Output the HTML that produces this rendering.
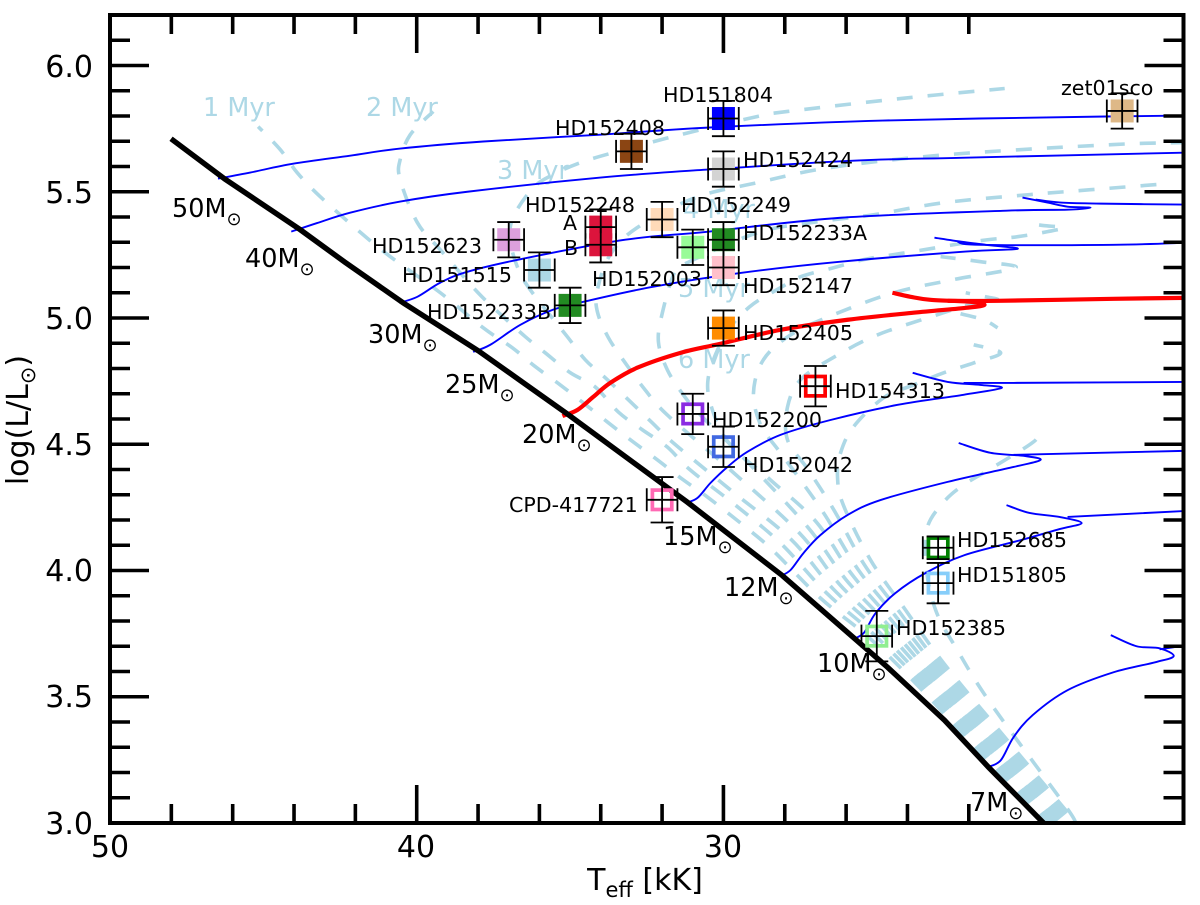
<!DOCTYPE html>
<html lang="en">
<head>
<meta charset="utf-8">
<title>HR diagram</title>
<style>
html,body{margin:0;padding:0;background:#fff;}
svg{display:block;}
text{font-family:"DejaVu Sans","Liberation Sans",sans-serif;fill:#000;}
.star-label{font-size:20.6px;}
.mass-label{font-size:25.5px;}
.iso-label{font-size:25.5px;fill:#add8e6;}
.tick-label{font-size:30px;}
.axis-title{font-size:30px;}
</style>
</head>
<body>
<svg id="chart" xmlns="http://www.w3.org/2000/svg" width="1200" height="905" viewBox="0 0 1200 905">
  <defs><clipPath id="plot-clip"><rect x="110" y="15" width="1073.5" height="808"/></clipPath></defs>
  <g id="layer-iso-labels">
    <text class="iso-label" x="203" y="116">1 Myr</text>
    <text class="iso-label" x="366" y="116">2 Myr</text>
    <text class="iso-label" x="497" y="179">3 Myr</text>
    <text class="iso-label" x="683" y="218">4 Myr</text>
    <text class="iso-label" x="678" y="297">5 Myr</text>
    <text class="iso-label" x="678" y="368">6 Myr</text>
  </g>
  <g id="layer-iso" clip-path="url(#plot-clip)"></g>
  <g id="layer-tracks" clip-path="url(#plot-clip)"></g>
  <g id="layer-zams" clip-path="url(#plot-clip)"></g>
  <g id="layer-stars"></g>
  <g id="layer-axes"></g>
  <g id="layer-labels">
    <text class="mass-label" x="172" y="217">50M<tspan dy="8" font-size="18">⊙</tspan></text>
    <text class="mass-label" x="245" y="267">40M<tspan dy="8" font-size="18">⊙</tspan></text>
    <text class="mass-label" x="368" y="343">30M<tspan dy="8" font-size="18">⊙</tspan></text>
    <text class="mass-label" x="445" y="393">25M<tspan dy="8" font-size="18">⊙</tspan></text>
    <text class="mass-label" x="522" y="443">20M<tspan dy="8" font-size="18">⊙</tspan></text>
    <text class="mass-label" x="663" y="545">15M<tspan dy="8" font-size="18">⊙</tspan></text>
    <text class="mass-label" x="724" y="596">12M<tspan dy="8" font-size="18">⊙</tspan></text>
    <text class="mass-label" x="817" y="672">10M<tspan dy="8" font-size="18">⊙</tspan></text>
    <text class="mass-label" x="970" y="811">7M<tspan dy="8" font-size="18">⊙</tspan></text>

    <text class="star-label" x="663" y="102">HD151804</text>
    <text class="star-label" x="555" y="135">HD152408</text>
    <text class="star-label" x="743" y="167">HD152424</text>
    <text class="star-label" x="1061" y="95">zet01sco</text>
    <text class="star-label" x="681" y="212">HD152249</text>
    <text class="star-label" x="525" y="212">HD152248</text>
    <text class="star-label" x="563" y="230">A</text>
    <text class="star-label" x="564" y="255">B</text>
    <text class="star-label" x="743" y="240">HD152233A</text>
    <text class="star-label" x="592" y="286">HD152003</text>
    <text class="star-label" x="743" y="293">HD152147</text>
    <text class="star-label" x="372" y="253">HD152623</text>
    <text class="star-label" x="402" y="282">HD151515</text>
    <text class="star-label" x="427" y="319">HD152233B</text>
    <text class="star-label" x="743" y="340">HD152405</text>
    <text class="star-label" x="835" y="398">HD154313</text>
    <text class="star-label" x="712" y="427">HD152200</text>
    <text class="star-label" x="743" y="472">HD152042</text>
    <text class="star-label" x="509" y="512">CPD-417721</text>
    <text class="star-label" x="957" y="547">HD152685</text>
    <text class="star-label" x="957" y="582">HD151805</text>
    <text class="star-label" x="896" y="635">HD152385</text>

    <text class="tick-label" x="93" y="77" text-anchor="end">6.0</text>
    <text class="tick-label" x="93" y="203" text-anchor="end">5.5</text>
    <text class="tick-label" x="93" y="329" text-anchor="end">5.0</text>
    <text class="tick-label" x="93" y="455" text-anchor="end">4.5</text>
    <text class="tick-label" x="93" y="581" text-anchor="end">4.0</text>
    <text class="tick-label" x="93" y="707" text-anchor="end">3.5</text>
    <text class="tick-label" x="93" y="834" text-anchor="end">3.0</text>
    <text class="tick-label" x="110" y="857" text-anchor="middle">50</text>
    <text class="tick-label" x="416" y="857" text-anchor="middle">40</text>
    <text class="tick-label" x="723" y="857" text-anchor="middle">30</text>
    <text class="axis-title" x="645" y="890" text-anchor="middle">T<tspan dy="7" font-size="21">eff</tspan><tspan dy="-7"> [kK]</tspan></text>
    <text class="axis-title" transform="translate(28,420) rotate(-90)" text-anchor="middle">log(L/L<tspan dy="7" font-size="21">⊙</tspan><tspan dy="-7">)</tspan></text>
  </g>
</svg>
<script>
// ---- axis limits and ticks ----
const xLimits = [50, 15];
const yLimits = [3.0, 6.2];
const xMajorTicks = [50, 40, 30];
const xMinorTicks = [48, 46, 44, 42, 38, 36, 34, 32, 28, 26, 24, 22];
const yMajorTicks = [3.0, 3.5, 4.0, 4.5, 5.0, 5.5, 6.0];
const yMinorTicks = [3.1, 3.2, 3.3, 3.4, 3.6, 3.7, 3.8, 3.9, 4.1, 4.2, 4.3, 4.4, 4.6, 4.7, 4.8, 4.9, 5.1, 5.2, 5.3, 5.4, 5.6, 5.7, 5.8, 5.9, 6.1];

// ---- zero-age main sequence [Teff kK, logL] ----
const zams = [[48.01,5.71],[46.25,5.55],[43.8,5.35],[42.33,5.22],[40.44,5.06],[37.99,4.87],[35.09,4.62],[31.17,4.27],[28.08,3.98],[25.53,3.71],[24.65,3.617],[22.79,3.407],[21.35,3.22],[19.4,2.98]];

// ---- evolutionary tracks [Teff kK, logL] ----
const track50 = [[46.48,5.552],[45.43,5.576],[44.03,5.611],[42.17,5.643],[40.54,5.671],[37.83,5.699],[34.01,5.726],[30.52,5.754],[24.81,5.782],[17.54,5.798],[14.9,5.802]];
const track40 = [[44.09,5.342],[43.25,5.376],[42.17,5.417],[40.54,5.461],[38.35,5.500],[34.01,5.556],[30.52,5.588],[25.76,5.623],[22.11,5.635],[14.9,5.655]];
const track30 = [[40.57,5.060],[39.98,5.084],[39.23,5.140],[38.35,5.183],[36.53,5.235],[33.20,5.310],[30.49,5.342],[26.18,5.397],[20.77,5.425],[18.78,5.429],[18.03,5.437],[18.78,5.441],[19.43,5.457],[20.25,5.477]];
const track30Branch = [[19.82,5.469],[19.00,5.457],[17.70,5.453],[14.9,5.449]];
const track25 = [[38.16,4.866],[37.60,4.894],[36.62,4.973],[35.55,5.033],[34.57,5.064],[32.28,5.124],[29.41,5.179],[26.18,5.223],[22.11,5.263],[20.41,5.274],[21.45,5.290],[22.24,5.302],[23.12,5.318]];
const track25Branch = [[22.37,5.302],[21.62,5.290],[17.28,5.290],[14.9,5.298]];
const track15 = [[31.24,4.267],[30.85,4.287],[30.42,4.347],[29.87,4.410],[29.22,4.470],[28.14,4.537],[26.51,4.596],[24.32,4.656],[22.17,4.696],[20.93,4.723],[21.62,4.735],[22.69,4.747],[23.83,4.783]];
const track15Branch = [[22.17,4.743],[20.54,4.743],[14.9,4.747]];
const track12 = [[28.14,3.978],[27.81,4.002],[27.39,4.069],[26.84,4.140],[25.95,4.220],[24.88,4.279],[22.69,4.351],[20.54,4.410],[19.66,4.438],[20.21,4.454],[21.29,4.466],[22.33,4.505]];
const track12Branch = [[20.54,4.458],[14.9,4.474]];
const track10 = [[25.69,3.732],[25.40,3.756],[25.04,3.831],[24.39,3.911],[23.41,3.990],[22.14,4.061],[20.28,4.121],[19.04,4.164],[18.32,4.188],[19.04,4.212],[20.02,4.228],[20.77,4.259]];
const track10Branch = [[18.78,4.212],[14.9,4.236]];
const track7 = [[21.39,3.221],[20.96,3.248],[20.54,3.340],[19.92,3.427],[18.78,3.526],[17.28,3.597],[15.91,3.637],[15.32,3.661],[15.78,3.692],[16.53,3.700],[17.37,3.744]];
const track7Branch = [[15.78,3.688],[14.9,3.704]];
const track20 = [[35.25,4.612],[34.76,4.636],[34.24,4.688],[33.69,4.743],[32.81,4.803],[31.40,4.862],[30.10,4.898],[28.14,4.953],[25.95,4.993],[23.80,5.021],[22.04,5.041],[21.49,5.052],[21.94,5.064],[23.25,5.072],[23.90,5.084],[24.49,5.100]];
const track20Branch = [[22.69,5.068],[21.06,5.068],[17.28,5.076],[14.9,5.080]];

// ---- isochrones [Teff kK, logL] ----
const iso1 = [[19.43,2.979],[21.65,3.280],[23.74,3.554],[25.27,3.736],[26.84,3.891],[28.40,4.081],[29.28,4.172],[30.52,4.291],[31.31,4.359],[32.15,4.438],[32.94,4.509],[33.75,4.585],[34.57,4.664],[35.32,4.735],[36.13,4.807],[36.88,4.882],[37.83,4.961],[39.23,5.100],[40.86,5.243],[41.75,5.330],[43.15,5.481],[43.90,5.576],[44.45,5.667],[45.17,5.758]];
const iso2 = [[19.35,2.987],[21.55,3.288],[23.62,3.564],[25.12,3.750],[26.64,3.911],[28.11,4.105],[29.61,4.259],[31.08,4.398],[31.83,4.489],[32.64,4.557],[33.43,4.628],[34.18,4.727],[34.99,4.783],[35.81,4.862],[36.46,4.926],[37.18,5.005],[38.03,5.104],[39.23,5.270],[39.98,5.378],[40.54,5.548],[40.54,5.627],[40.21,5.726],[39.46,5.818]];
const iso3 = [[19.27,2.995],[21.49,3.300],[23.51,3.573],[24.98,3.764],[26.43,3.928],[27.81,4.125],[29.77,4.319],[31.63,4.505],[32.32,4.585],[33.03,4.668],[33.85,4.763],[34.50,4.834],[35.09,4.926],[36.30,5.112],[36.72,5.203],[36.95,5.310],[36.85,5.401],[36.20,5.516],[35.55,5.568],[34.67,5.615],[33.59,5.655],[31.40,5.726],[28.89,5.798],[27.91,5.818],[24.23,5.869],[20.83,5.909]];
const iso4 = [[19.18,3.003],[21.39,3.308],[23.39,3.583],[24.81,3.776],[26.22,3.946],[27.52,4.148],[29.77,4.398],[31.83,4.616],[32.55,4.715],[33.20,4.822],[33.75,4.922],[34.11,5.025],[34.11,5.112],[33.69,5.251],[32.81,5.358],[30.91,5.477],[28.89,5.536],[26.51,5.596],[22.69,5.647],[17.28,5.687],[14.76,5.695]];
const iso5 = [[19.10,3.010],[21.29,3.316],[23.28,3.593],[24.67,3.790],[26.02,3.966],[27.24,4.170],[29.28,4.438],[30.75,4.616],[31.31,4.696],[31.83,4.795],[32.12,4.906],[31.99,5.021],[31.60,5.179],[31.18,5.219],[28.89,5.338],[27.13,5.378],[25.11,5.409],[22.79,5.457],[19.98,5.489],[18.03,5.508],[15.51,5.532]];
const iso6 = [[19.02,3.018],[21.19,3.328],[23.17,3.603],[24.52,3.803],[25.82,3.986],[26.97,4.192],[28.47,4.359],[29.77,4.497],[30.36,4.636],[30.49,4.767],[29.94,4.933],[29.15,5.044],[28.14,5.120],[27.49,5.163],[26.41,5.199],[25.43,5.231],[24.45,5.251],[23.47,5.270],[22.50,5.290],[21.39,5.310],[20.41,5.322],[19.43,5.342],[18.91,5.358],[19.56,5.366],[19.98,5.374]];
const iso7 = [[18.94,3.026],[21.09,3.336],[23.05,3.613],[24.36,3.815],[25.61,4.004],[26.67,4.216],[27.49,4.359],[28.21,4.477],[28.79,4.577],[29.02,4.704],[28.70,4.834],[27.81,4.933],[26.41,5.013],[24.45,5.100],[22.50,5.152],[20.47,5.199],[21.62,5.223],[22.92,5.243]];
const iso8 = [[18.86,3.034],[21.03,3.347],[22.94,3.623],[24.23,3.831],[25.40,4.022],[26.38,4.236],[27.23,4.398],[27.91,4.517],[27.91,4.648],[27.49,4.755],[26.44,4.842],[24.98,4.933],[23.02,5.013],[21.78,5.060],[21.06,5.072],[21.45,5.084],[22.10,5.100]];
const iso9 = [[18.78,3.042],[20.93,3.355],[22.82,3.633],[24.06,3.843],[25.20,4.041],[26.09,4.259],[26.28,4.370],[26.18,4.466],[25.76,4.569],[24.78,4.684],[23.80,4.735],[22.82,4.783],[21.84,4.822],[20.96,4.862],[21.84,4.894]];
const iso10 = [[18.52,3.003],[18.91,3.078],[21.29,3.474],[22.37,3.684],[23.08,3.843],[23.41,4.029],[23.35,4.172],[22.82,4.271],[22.17,4.339],[21.19,4.410],[19.82,4.517],[20.15,4.537]];
const isoHook = [[22.27,5.017],[21.52,4.993],[21.06,4.961]];
// additional older isochrones packed into the low-mass bundle
const isoBundle1 = [[19.39,2.983],[21.60,3.285],[23.84,3.582]];
const isoBundle2 = [[19.31,2.991],[21.55,3.294],[23.73,3.592]];
const isoBundle3 = [[19.23,2.998],[21.42,3.303],[23.62,3.602]];
const isoBundle4 = [[19.15,3.006],[21.34,3.313],[23.50,3.612]];
const isoBundle5 = [[19.06,3.014],[21.24,3.322],[23.39,3.622]];
const isoBundle6 = [[18.98,3.022],[21.16,3.332],[23.27,3.632]];
const isoBundle7 = [[18.90,3.030],[21.07,3.341],[23.16,3.642]];
const isoBundle8 = [[18.82,3.038],[20.98,3.351],[23.04,3.652]];

// ---- observed stars ----
const starNames = ["HD151804","HD152408","HD152424","zet01sco","HD152249","HD152248A","HD152248B","HD152003","HD152233A","HD152147","HD152623","HD151515","HD152233B","HD152405","HD154313","HD152200","HD152042","CPD-417721","HD152685","HD151805","HD152385"];
const starTeff = [30,33,30,17,32,34,34,31,30,30,37,36,35,30,27,31,30,32,23,23,25];
const starLogL = [5.79,5.66,5.59,5.82,5.39,5.36,5.29,5.28,5.31,5.20,5.31,5.19,5.05,4.96,4.73,4.62,4.49,4.28,4.09,3.95,3.74];
const starErrLogL = [0.07,0.07,0.07,0.07,0.07,0.07,0.07,0.07,0.07,0.07,0.07,0.07,0.07,0.07,0.08,0.08,0.08,0.09,0.045,0.08,0.1];
const starErrTeff = [0.5,0.5,0.5,0.5,0.5,0.5,0.5,0.5,0.5,0.5,0.5,0.5,0.5,0.5,0.5,0.5,0.5,0.5,0.5,0.5,0.5];
const starColorKey = ["blue","saddlebrown","lightgray","burlywood","peachpuff","crimson","crimson","palegreen","forestgreen","pink","plum","lightblue","forestgreen","darkorange","red","blueviolet","royalblue","hotpink","green","lightskyblue","lightgreen"];
const starIsHollow = [false,false,false,false,false,false,false,false,false,false,false,false,false,false,true,true,true,true,true,true,true];

// ---- axis functions ----
const plotLeft = 110, plotRight = 1183.5, plotTop = 15, plotBottom = 823;
function xScale(t) { return plotLeft + (t - xLimits[0]) / (xLimits[1] - xLimits[0]) * (plotRight - plotLeft); }
function yScale(l) { return plotBottom - (l - yLimits[0]) / (yLimits[1] - yLimits[0]) * (plotBottom - plotTop); }

const NS = "http://www.w3.org/2000/svg";
function make(tag, attrs, parent) {
  const el = document.createElementNS(NS, tag);
  for (const k in attrs) el.setAttribute(k, attrs[k]);
  parent.appendChild(el);
  return el;
}
function smoothPath(pts) {
  const p = pts.map(function (d) { return [xScale(d[0]), yScale(d[1])]; });
  let s = "M" + p[0][0].toFixed(2) + " " + p[0][1].toFixed(2);
  for (let i = 0; i < p.length - 1; i++) {
    const a = p[Math.max(i - 1, 0)], b = p[i], c = p[i + 1], d = p[Math.min(i + 2, p.length - 1)];
    const c1x = b[0] + (c[0] - a[0]) / 6, c1y = b[1] + (c[1] - a[1]) / 6;
    const c2x = c[0] - (d[0] - b[0]) / 6, c2y = c[1] - (d[1] - b[1]) / 6;
    s += "C" + c1x.toFixed(2) + " " + c1y.toFixed(2) + " " + c2x.toFixed(2) + " " + c2y.toFixed(2) + " " + c[0].toFixed(2) + " " + c[1].toFixed(2);
  }
  return s;
}
function straightPath(pts) {
  return pts.map(function (d, i) { return (i ? "L" : "M") + xScale(d[0]).toFixed(2) + " " + yScale(d[1]).toFixed(2); }).join("");
}

// ---- isochrones ----
const isoLayer = document.getElementById("layer-iso");
[iso1, iso2, iso3, iso4, iso5, iso6, iso7, iso8, iso9, iso10, isoHook, isoBundle1, isoBundle2, isoBundle3, isoBundle4, isoBundle5, isoBundle6, isoBundle7, isoBundle8].forEach(function (pts) {
  const el = make("path", { d: smoothPath(pts), fill: "none", stroke: "#add8e6", "stroke-width": 3.6, "stroke-dasharray": "16 15" }, isoLayer);
  
  
});

// ---- tracks ----
const trackLayer = document.getElementById("layer-tracks");
[track50, track40, track30, track30Branch, track25, track25Branch, track15, track15Branch, track12, track12Branch, track10, track10Branch, track7, track7Branch].forEach(function (pts) {
  const el = make("path", { d: smoothPath(pts), fill: "none", stroke: "#0000ff", "stroke-width": 1.9 }, trackLayer);
  
  
});
[track20, track20Branch].forEach(function (pts) {
  const el = make("path", { d: smoothPath(pts), fill: "none", stroke: "#ff0000", "stroke-width": 4.2 }, trackLayer);
  
  
});

// ---- ZAMS ----
const zamsEl = make("path", { d: straightPath(zams), fill: "none", stroke: "#000", "stroke-width": 5.4 }, document.getElementById("layer-zams"));



// ---- stars ----
const colorMap = { blue:"#0000ff", saddlebrown:"#8b4513", lightgray:"#d3d3d3", burlywood:"#deb887", peachpuff:"#ffdab9", crimson:"#dc143c", palegreen:"#98fb98", forestgreen:"#228b22", pink:"#ffc0cb", plum:"#dda0dd", lightblue:"#add8e6", darkorange:"#ff8c00", red:"#ff0000", blueviolet:"#8a2be2", royalblue:"#4169e1", hotpink:"#ff69b4", green:"#008000", lightskyblue:"#87cefa", lightgreen:"#90ee90" };
const starLayer = document.getElementById("layer-stars");
starNames.forEach(function (name, i) {
  const cx = xScale(starTeff[i]), cy = yScale(starLogL[i]);
  const g = make("g", {}, starLayer);
  
  
  const color = colorMap[starColorKey[i]];
  const marker = starIsHollow[i]
    ? make("rect", { x: cx - 9.7, y: cy - 9.7, width: 19.4, height: 19.4, fill: "none", stroke: color, "stroke-width": 3.7 }, g)
    : make("rect", { x: cx - 11.5, y: cy - 11.5, width: 23, height: 23, fill: color }, g);
  
  
  const x0 = xScale(starTeff[i] + starErrTeff[i]), x1 = xScale(starTeff[i] - starErrTeff[i]);
  const y0 = yScale(starLogL[i] + starErrLogL[i]), y1 = yScale(starLogL[i] - starErrLogL[i]);
  const cap = 11.5;
  const d = "M" + x0 + " " + cy + "L" + x1 + " " + cy +
            "M" + x0 + " " + (cy - cap) + "L" + x0 + " " + (cy + cap) +
            "M" + x1 + " " + (cy - cap) + "L" + x1 + " " + (cy + cap) +
            "M" + cx + " " + y0 + "L" + cx + " " + y1 +
            "M" + (cx - cap) + " " + y0 + "L" + (cx + cap) + " " + y0 +
            "M" + (cx - cap) + " " + y1 + "L" + (cx + cap) + " " + y1;
  const err = make("path", { d: d, fill: "none", stroke: "#000", "stroke-width": 1.8 }, g);
  
  
});

// ---- axes ----
const axisLayer = document.getElementById("layer-axes");
const frame = make("rect", { x: plotLeft, y: plotTop, width: plotRight - plotLeft, height: plotBottom - plotTop, fill: "none", stroke: "#000", "stroke-width": 4 }, axisLayer);


function tickLine(x1, y1, x2, y2, name) {
  const el = make("line", { x1: x1, y1: y1, x2: x2, y2: y2, stroke: "#000", "stroke-width": 3.6 }, axisLayer);
  
  
}
xMajorTicks.forEach(function (t) {
  tickLine(xScale(t), plotBottom, xScale(t), plotBottom - 38, 'x-major-tick');
  tickLine(xScale(t), plotTop, xScale(t), plotTop + 38, 'x-major-tick-top');
});
xMinorTicks.forEach(function (t) {
  tickLine(xScale(t), plotBottom, xScale(t), plotBottom - 19, 'x-minor-tick');
  tickLine(xScale(t), plotTop, xScale(t), plotTop + 19, 'x-minor-tick-top');
});
yMajorTicks.forEach(function (l) {
  tickLine(plotLeft, yScale(l), plotLeft + 39, yScale(l), 'y-major-tick');
  tickLine(plotRight, yScale(l), plotRight - 39, yScale(l), 'y-major-tick-right');
});
yMinorTicks.forEach(function (l) {
  tickLine(plotLeft, yScale(l), plotLeft + 20, yScale(l), 'y-minor-tick');
  tickLine(plotRight, yScale(l), plotRight - 20, yScale(l), 'y-minor-tick-right');
});
</script>
</body>
</html>
